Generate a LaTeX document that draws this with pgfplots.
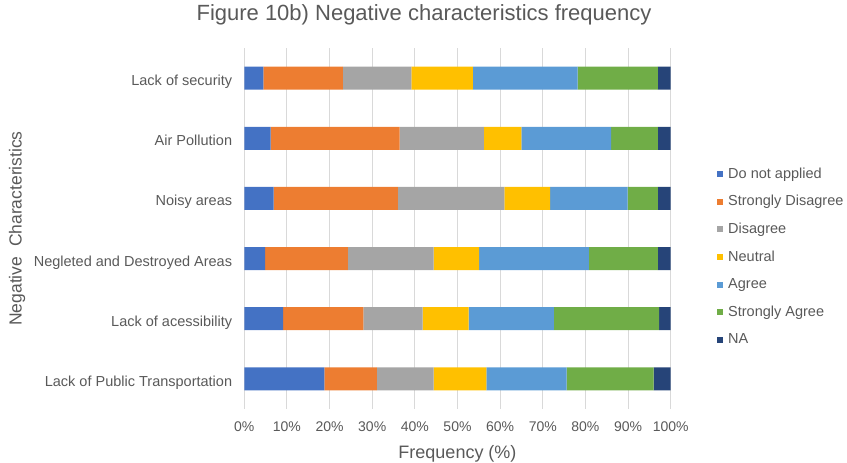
\documentclass[border=0pt]{standalone}
\usepackage{pgfplots}
\pgfplotsset{compat=1.18}
\usepackage{pgfplotstable}
\usepackage{fontspec}
\setmainfont{Liberation Sans}

\definecolor{cDNA}{HTML}{4472C4}
\definecolor{cSD}{HTML}{ED7D31}
\definecolor{cD}{HTML}{A5A5A5}
\definecolor{cN}{HTML}{FFC000}
\definecolor{cA}{HTML}{5B9BD5}
\definecolor{cSA}{HTML}{70AD47}
\definecolor{cNA}{HTML}{264478}
\definecolor{txt}{HTML}{595959}
\definecolor{grd}{HTML}{D9D9D9}

% share of answers (%) per characteristic, bottom row first
\pgfplotstableread{
y  dna   sd    d     n     a     sa    na
0  18.8  12.3  13.3  12.4  18.8  20.4  4.0
1  9.1   18.8  13.9  10.8  20.0  24.7  2.7
2  4.9   19.4  20.1  10.7  25.7  16.2  3.0
3  6.9   29.1  25.0  10.7  18.2  7.1   3.0
4  6.2   30.2  19.8  8.8   21.0  11.0  3.0
5  4.5   18.6  16.1  14.4  24.6  18.8  3.0
}\freqdata

\begin{document}
\begin{tikzpicture}
\path[use as bounding box] (0pt,0pt) rectangle (847pt,463pt);

\node[anchor=base, text=txt, font=\fontsize{22}{26}\selectfont, inner sep=0pt]
  at (424pt,442pt) {Figure 10b) Negative characteristics frequency};

\node[anchor=base, rotate=90, text=txt, font=\fontsize{17.5}{21}\selectfont, inner sep=0pt]
  at (21.7pt,234.5pt) {Negative\ \ Characteristics};

\begin{axis}[
  at={(244.3pt,54pt)}, anchor=south west,
  scale only axis, width=426.4pt, height=361pt,
  xbar stacked, bar width=23pt,
  xmin=0, xmax=100, ymin=-0.5, ymax=5.5,
  axis line style={draw=none},
  major tick length=0pt,
  xtick={0,10,...,100},
  xticklabels={0\%,10\%,20\%,30\%,40\%,50\%,60\%,70\%,80\%,90\%,100\%},
  xmajorgrids, major grid style={grd, line width=1pt},
  ytick={0,...,5},
  yticklabels={Lack of Public Transportation, Lack of acessibility\hspace{3.5pt},
    Negleted and Destroyed Areas, Noisy areas, Air Pollution, Lack of security},
  xticklabel style={anchor=base, inner sep=0pt, yshift=-23pt, text=txt,
    font=\fontsize{14}{17}\selectfont},
  yticklabel style={anchor=base east, inner sep=0pt, xshift=-12pt, yshift=-7.5pt,
    text=txt, font=\fontsize{14.5}{17}\selectfont},
  xlabel={Frequency (\%)},
  xlabel style={at={(axis description cs:0.5,0)}, anchor=base, inner sep=0pt,
    yshift=-50pt, text=txt, font=\fontsize{18}{22}\selectfont},
  legend cell align=left,
  legend style={at={(1.1086,0.421)}, anchor=west, draw=none, fill=none,
    inner sep=0pt, row sep=13.6pt, text=txt,
    font=\fontsize{14.5}{17}\selectfont,
    nodes={inner sep=0pt, text height=11pt, text depth=3pt}},
  legend image code/.code={
    \fill[#1] (0pt,-3pt) rectangle (6pt,3pt);
    \path (11pt,0pt);
  },
]
\addplot[fill=cDNA, draw=none] table[x=dna, y=y] {\freqdata};
\addplot[fill=cSD,  draw=none] table[x=sd,  y=y] {\freqdata};
\addplot[fill=cD,   draw=none] table[x=d,   y=y] {\freqdata};
\addplot[fill=cN,   draw=none] table[x=n,   y=y] {\freqdata};
\addplot[fill=cA,   draw=none] table[x=a,   y=y] {\freqdata};
\addplot[fill=cSA,  draw=none] table[x=sa,  y=y] {\freqdata};
\addplot[fill=cNA,  draw=none] table[x=na,  y=y] {\freqdata};
\legend{Do not applied, Strongly Disagree, Disagree, Neutral, Agree,
  Strongly Agree, NA}
\end{axis}
\end{tikzpicture}
\end{document}
